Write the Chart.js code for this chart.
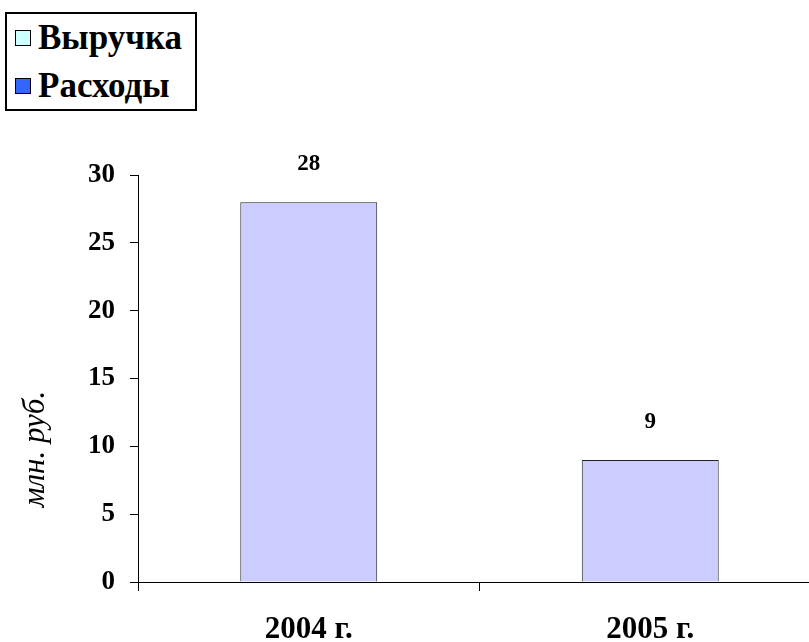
<!DOCTYPE html>
<html><head><meta charset="utf-8">
<script src="https://cdn.jsdelivr.net/npm/chart.js@4"></script>
<style>
html,body{margin:0;padding:0;background:#fff;overflow:hidden;width:809px;height:642px}
#wrap{position:absolute;left:0;top:0;width:821px;height:642px}
#legend{position:absolute;left:5px;top:12px;width:188px;height:95px;border:2px solid #000;background:#fff;font:bold 35px 'Liberation Serif','Times New Roman',serif;color:#000}
.row{height:48px;display:flex;align-items:center;white-space:nowrap}
.sw{width:14px;height:14px;border:1px solid #000;margin-left:8px;margin-right:7px;flex:none}
</style></head><body>
<div id="wrap"><canvas id="c"></canvas></div>
<div id="legend"></div>
<script>
const categories = ['2004 г.', '2005 г.'];
const values = [28, 9];
const legendLabels = ['Выручка', 'Расходы'];
const legendColors = ['#CCFFFF', '#3366FF'];
const yMin = 0, yMax = 30, yStep = 5;
const yTitle = 'млн. руб.';
const barColor = '#CCCCFF';
const serif = "'Liberation Serif','Times New Roman',serif";

const lg = document.getElementById('legend');
legendLabels.forEach((t, i) => {
  const r = document.createElement('div'); r.className = 'row';
  const s = document.createElement('span'); s.className = 'sw'; s.style.background = legendColors[i];
  const l = document.createElement('span'); l.textContent = t;
  r.appendChild(s); r.appendChild(l); lg.appendChild(r);
});

const dataLabels = {
  id: 'dataLabels',
  afterDatasetsDraw(chart) {
    const ctx = chart.ctx;
    ctx.save();
    ctx.font = 'bold 23px ' + serif;
    ctx.fillStyle = '#000';
    ctx.textAlign = 'center';
    ctx.textBaseline = 'alphabetic';
    chart.getDatasetMeta(0).data.forEach((bar, i) => {
      ctx.fillText(String(chart.data.datasets[0].data[i]), bar.x, bar.y - 32);
    });
    ctx.restore();
  }
};
const yTitlePlugin = {
  id: 'yTitle',
  afterDraw(chart) {
    const ctx = chart.ctx, ys = chart.scales.y;
    ctx.save();
    ctx.font = 'italic 31px ' + serif;
    ctx.fillStyle = '#000';
    ctx.textAlign = 'center';
    ctx.textBaseline = 'middle';
    ctx.translate(36, ys.getPixelForValue(9.8));
    ctx.rotate(-Math.PI / 2);
    ctx.fillText(yTitle, 0, 0);
    ctx.restore();
  }
};

new Chart(document.getElementById('c'), {
  type: 'bar',
  data: {
    labels: categories,
    datasets: [{
      label: legendLabels[0],
      data: values,
      backgroundColor: barColor,
      borderColor: '#222',
      borderWidth: 1,
      categoryPercentage: 1,
      barPercentage: 0.401
    }]
  },
  options: {
    responsive: true,
    maintainAspectRatio: false,
    animation: false,
    layout: { padding: { top: 175, left: 0, right: 0, bottom: 0 } },
    plugins: { legend: { display: false }, tooltip: { enabled: false } },
    scales: {
      x: {
        offset: true,
        afterFit(s) { s.height = 60; },
        grid: { offset: true, drawOnChartArea: false, drawTicks: true, tickLength: 9, color: '#000' },
        border: { color: '#000', width: 1 },
        ticks: { color: '#000', font: { family: serif, size: 31, weight: 'bold' }, padding: 20, maxRotation: 0 }
      },
      y: {
        min: yMin, max: yMax,
        afterFit(s) { s.width = 138; },
        grid: { drawOnChartArea: false, drawTicks: true, tickLength: 8, color: '#000' },
        border: { color: '#000', width: 1 },
        ticks: { stepSize: yStep, color: '#000', font: { family: serif, size: 27, weight: 'bold' }, padding: 15 }
      }
    }
  },
  plugins: [dataLabels, yTitlePlugin]
});
</script>
</body></html>
